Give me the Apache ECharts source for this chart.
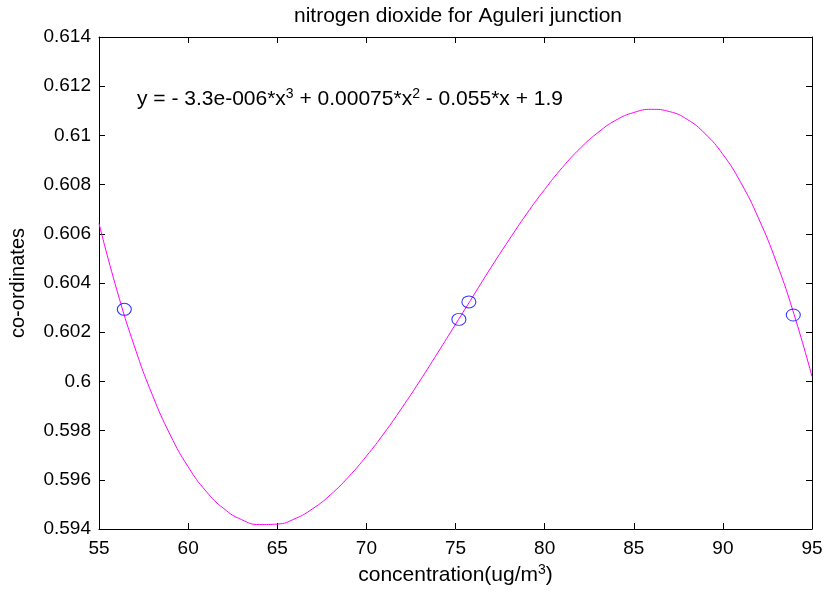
<!DOCTYPE html>
<html>
<head>
<meta charset="utf-8">
<script src="https://cdn.jsdelivr.net/npm/echarts@6/dist/echarts.min.js"></script>
<style>
html,body{margin:0;padding:0;background:#fff;}
#chart{width:828px;height:592px;}
</style>
</head>
<body>
<div id="chart"></div>
<script>
// Fitted curve
const curveX = [55,56,57,58,59,60,61,62,63,64,65,66,67,68,69,70,71,72,73,74,75,76,77,78,79,80,81,82,83,84,85,86,87,88,89,90,91,92,93,94,95];
const curveY = [0.60642,0.60372,0.60140,0.59944,0.59782,0.59653,0.59554,0.59483,0.59438,0.59418,0.59420,0.59442,0.59483,0.59540,0.59612,0.59696,0.59790,0.59893,0.60002,0.60116,0.60232,0.60348,0.60464,0.60575,0.60682,0.60780,0.60870,0.60948,0.61012,0.61062,0.61093,0.61106,0.61097,0.61065,0.61007,0.60923,0.60809,0.60663,0.60485,0.60271,0.60020];
// Measured points (blue circles)
const pointX = [56.42, 75.19, 75.75, 93.95];
const pointY = [0.60293, 0.60252, 0.60323, 0.6027];
// Tick labels
const xTicks = [55,60,65,70,75,80,85,90,95];
const yTicks = [0.594,0.596,0.598,0.6,0.602,0.604,0.606,0.608,0.61,0.612,0.614];

const titleText = 'nitrogen dioxide for Aguleri junction';
const xName = 'concentration(ug/m{sup|3})';
const yName = 'co-ordinates';
const eqText = 'y = - 3.3e-006*x{sup|3} + 0.00075*x{sup|2} - 0.055*x + 1.9';

const FONT = 'Liberation Sans, Arial, Helvetica, sans-serif';
const chart = echarts.init(document.getElementById('chart'), null, {renderer:'canvas'});

const xMin = xTicks[0], xMax = xTicks[xTicks.length-1], xInt = xTicks[1]-xTicks[0];
const yMin = yTicks[0], yMax = yTicks[yTicks.length-1];
const yInt = 0.002;

const axisCommon = {
  axisLine:{show:true, onZero:false, lineStyle:{color:'#000', width:1}},
  axisTick:{show:true, inside:true, length:6, lineStyle:{color:'#000', width:1}},
  splitLine:{show:false}
};

chart.setOption({
  animation:false,
  backgroundColor:'#fff',
  textStyle:{fontFamily:FONT},
  title:{
    text:titleText, left:453, top:1, textAlign:'center',
    textStyle:{fontFamily:FONT, fontSize:21, fontWeight:'normal', color:'#000'}
  },
  grid:{left:98, right:16, top:37, bottom:63, containLabel:false, show:false},
  xAxis:[
    Object.assign({
      type:'value', min:xMin, max:xMax, interval:xInt, position:'bottom',
      name:xName, nameLocation:'middle', nameGap:30,
      nameTextStyle:{fontFamily:FONT, fontSize:21, color:'#000',
        rich:{sup:{fontSize:14, fontFamily:FONT, color:'#000', padding:[0,0,11,0]}}},
      axisLabel:{show:true, margin:10, fontFamily:FONT, fontSize:19, color:'#000',
        formatter:v=>String(v)}
    }, axisCommon),
    Object.assign({
      type:'value', min:xMin, max:xMax, interval:xInt, position:'top',
      axisLabel:{show:false}
    }, axisCommon)
  ],
  yAxis:[
    Object.assign({
      type:'value', min:yMin, max:yMax, interval:yInt, position:'left',
      name:yName, nameLocation:'middle', nameGap:71,
      nameTextStyle:{fontFamily:FONT, fontSize:20, color:'#000'},
      axisLabel:{show:true, margin:8, fontFamily:FONT, fontSize:19, color:'#000',
        formatter:v=>String(parseFloat(v.toFixed(3)))}
    }, axisCommon),
    Object.assign({
      type:'value', min:yMin, max:yMax, interval:yInt, position:'right',
      axisLabel:{show:false}
    }, axisCommon)
  ],
  graphic:[{
    type:'text', left:137, top:87, z:10,
    style:{
      text:eqText, font:'21px ' + FONT, fill:'#000',
      rich:{sup:{fontSize:14, fontFamily:FONT, fill:'#000', padding:[0,0,11,0]}}
    }
  }],
  series:[
    {
      type:'line', xAxisIndex:0, yAxisIndex:0,
      data:curveX.map((x,i)=>[x, curveY[i]]),
      smooth:true, showSymbol:false, symbol:'none',
      lineStyle:{color:'#ff00ff', width:1}, z:2
    },
    {
      type:'scatter', xAxisIndex:0, yAxisIndex:0,
      data:pointX.map((x,i)=>[x, pointY[i]]),
      symbol:'circle', symbolSize:[14,12],
      itemStyle:{color:'rgba(0,0,0,0)', borderColor:'#0000ff', borderWidth:1},
      z:3
    }
  ]
});
</script>
</body>
</html>
